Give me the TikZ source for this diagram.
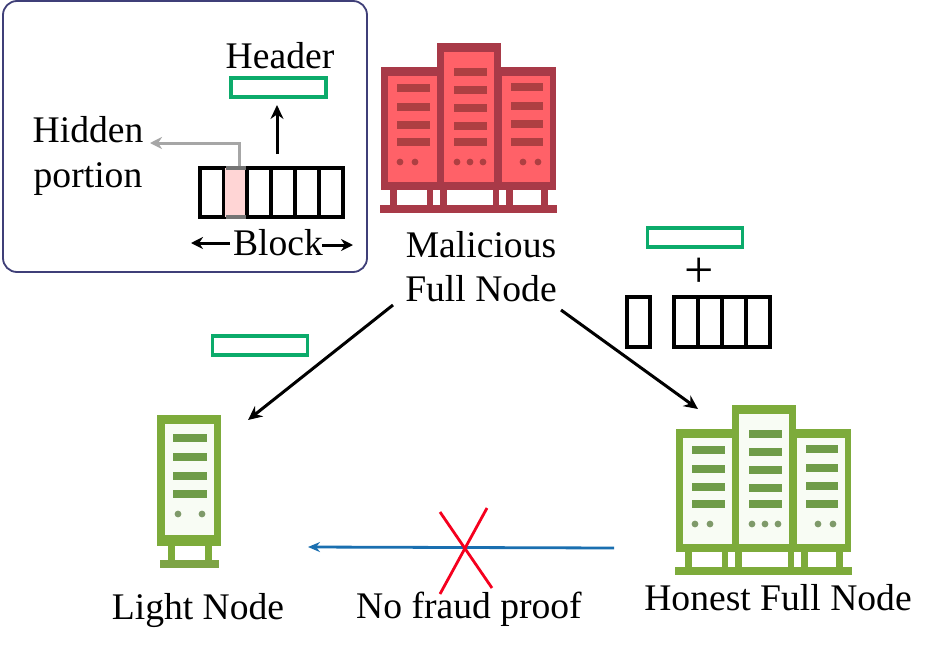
\documentclass[tikz,border=0pt]{standalone}
\usepackage{fontspec}
\setmainfont{Liberation Serif}
\usetikzlibrary{arrows.meta,calc}
\definecolor{boxline}{HTML}{3F3F78}
\definecolor{hdrgreen}{HTML}{0CAB6B}
\definecolor{hidegrey}{HTML}{A6A6A6}
\definecolor{hidepink}{HTML}{FFD5D5}
\definecolor{redframe}{HTML}{A83A48}
\definecolor{redfill}{HTML}{FF6168}
\definecolor{redbar}{HTML}{AE3F42}
\definecolor{grnframe}{HTML}{7DAB3B}
\definecolor{grnfill}{HTML}{F8FCF4}
\definecolor{grnbar}{HTML}{6F9C48}
\definecolor{grndot}{HTML}{7F9A6A}
\definecolor{flowblue}{HTML}{1A6FB0}
\definecolor{crossred}{HTML}{F5001E}
\tikzset{
  x=1pt,y=-1pt,
  lbl/.style={inner sep=0pt,anchor=base,font=\fontsize{37.6}{44}\selectfont},
  hdrbox/.style={draw=hdrgreen,line width=3.6pt,fill=white,inner sep=0pt,minimum width=95pt,minimum height=19.5pt},
  cell/.style={draw=black,line width=4pt,fill=white,inner sep=0pt,minimum height=49.5pt},
  flow/.style={line width=3pt,-{Stealth[length=14pt,width=13pt]}},
  smallflow/.style={line width=3pt,-{Stealth[length=12pt,width=12pt]}},
  greyflow/.style={draw=hidegrey,line width=3pt,-{Stealth[length=12pt,width=12pt]}},
  blueflow/.style={draw=flowblue,line width=2.8pt,-{Stealth[length=12pt,width=10pt]}},
  crossline/.style={draw=crossred,line width=2.8pt}
}
% #1,#2 offset; #3 frame; #4 fill; #5 bar; #6 dot
\newcommand{\serverfarm}[6]{%
\begin{scope}[shift={(#1,#2)}]
  \fill[#3] (381,67) rectangle (437,190);
  \fill[#3] (437,43) rectangle (501,190);
  \fill[#3] (501,67) rectangle (556,190);
  \fill[#4] (388,76) rectangle (437,182);
  \fill[#4] (444,52) rectangle (494,182);
  \fill[#4] (502,76) rectangle (550,182);
  \foreach \a/\b in {390/397,427/433,440/447,493/499,506/513,541/548}
    \fill[#3] (\a,190) rectangle (\b,206);
  \fill[#3] (380,205) rectangle (557,213);
  \foreach \y in {84,103,121,138} \fill[#5] (397,\y) rectangle (430,\y+8);
  \foreach \y in {68,86,104,122,138} \fill[#5] (454,\y) rectangle (487,\y+8);
  \foreach \y in {83,102,120,138} \fill[#5] (511,\y) rectangle (543,\y+8);
  \foreach \x in {400,415,457,470,483,523,538} \fill[#6] (\x,162) circle (3.4);
\end{scope}}
\begin{document}
\begin{tikzpicture}
\useasboundingbox (0,0) rectangle (935,651);
\fill[white] (0,0) rectangle (935,651);
% legend
\node (legend) [draw=boxline,line width=1.8pt,rounded corners=14pt,inner sep=0pt,minimum width=364pt,minimum height=271pt] at (185,136.5) {};
\node (header) [lbl] at (280,68) {Header};
\node (hdr1) [hdrbox] at (278.5,87.5) {};
\node (hidden) [lbl] at (88,142) {Hidden};
\node (portion) [lbl] at (88,187) {portion};
% legend block
\node (c1) [cell,minimum width=24pt] at (212,192.5) {};
\node (c2) [cell,draw=none,fill=hidepink,minimum width=21pt] at (235.5,192.5) {};
\node (c3) [cell,minimum width=24pt] at (259,192.5) {};
\node (c4) [cell,minimum width=24pt] at (283,192.5) {};
\node (c5) [cell,minimum width=24pt] at (307,192.5) {};
\node (c6) [cell,minimum width=24pt] at (331,192.5) {};
\draw[hidegrey!70!black,line width=4pt] (226,167.75) -- (245.5,167.75) (226,217.25) -- (245.5,217.25);
\coordinate (hiddenstart) at (239,166);
\coordinate (hiddencorner) at (239,143);
\coordinate (hiddenend) at (150,143);
\draw[greyflow] (hiddenstart) -- (hiddencorner) -- (hiddenend);
\coordinate (upstart) at (277,154);
\draw[flow] (upstart) -- (277,105) coordinate (upend);
\node (blocklbl) [lbl] at (278,255) {Block};
\coordinate (bl) at (230,243);
\coordinate (blend) at (191,243);
\coordinate (br) at (322,245);
\coordinate (brend) at (353,245);
\draw[smallflow] (bl) -- (blend);
\draw[smallflow] (br) -- (brend);
% servers
\serverfarm{0}{0}{redframe}{redfill}{redbar}{redbar}
\serverfarm{295}{362}{grnframe}{grnfill}{grnbar}{grndot}
% light node
\fill[grnframe] (157,415) rectangle (221,546);
\fill[grnfill] (165,424) rectangle (214,535);
\foreach \a/\b in {168/175,205/212} \fill[grnframe] (\a,546) rectangle (\b,561);
\fill[grnframe!85!gray] (160,560) rectangle (219,568);
\foreach \y in {434,453,472,490} \fill[grnbar] (173,\y) rectangle (207,\y+8);
\foreach \x in {178,202} \fill[grndot] (\x,514) circle (3.4);
% labels
\node (mal1) [lbl] at (481,257) {Malicious};
\node (mal2) [lbl] at (481,301) {Full Node};
\node (light) [lbl] at (198,619) {Light Node};
\node (nofraud) [lbl] at (469,618) {No fraud proof};
\node (honest) [lbl] at (778,610) {Honest Full Node};
% headers and blocks in transit
\node (hdr2) [hdrbox] at (695,237.5) {};
\node (plus) [lbl,font=\fontsize{52}{56}\selectfont] at (699,287) {+};
\node (hdr3) [hdrbox] at (260,345.5) {};
\node (t0) [cell,minimum width=23pt] at (638.5,322) {};
\node (t1) [cell,minimum width=24pt] at (686,322) {};
\node (t2) [cell,minimum width=24pt] at (710,322) {};
\node (t3) [cell,minimum width=24pt] at (734,322) {};
\node (t4) [cell,minimum width=24pt] at (758,322) {};
% connectors
\coordinate (ml) at (393,305);
\coordinate (lightin) at (248,420);
\coordinate (mr) at (561,310);
\coordinate (honestin) at (698,409);
\coordinate (honestout) at (614,548);
\coordinate (lightout) at (308,547);
\draw[flow] (ml) -- (lightin);
\draw[flow] (mr) -- (honestin);
\draw[blueflow] (honestout) -- (lightout);
\coordinate (xa) at (440,512);
\coordinate (xb) at (492,588);
\coordinate (xc) at (487,508);
\coordinate (xd) at (440,594);
\draw[crossline] (xa) -- (xb);
\draw[crossline] (xc) -- (xd);
\end{tikzpicture}
\end{document}
